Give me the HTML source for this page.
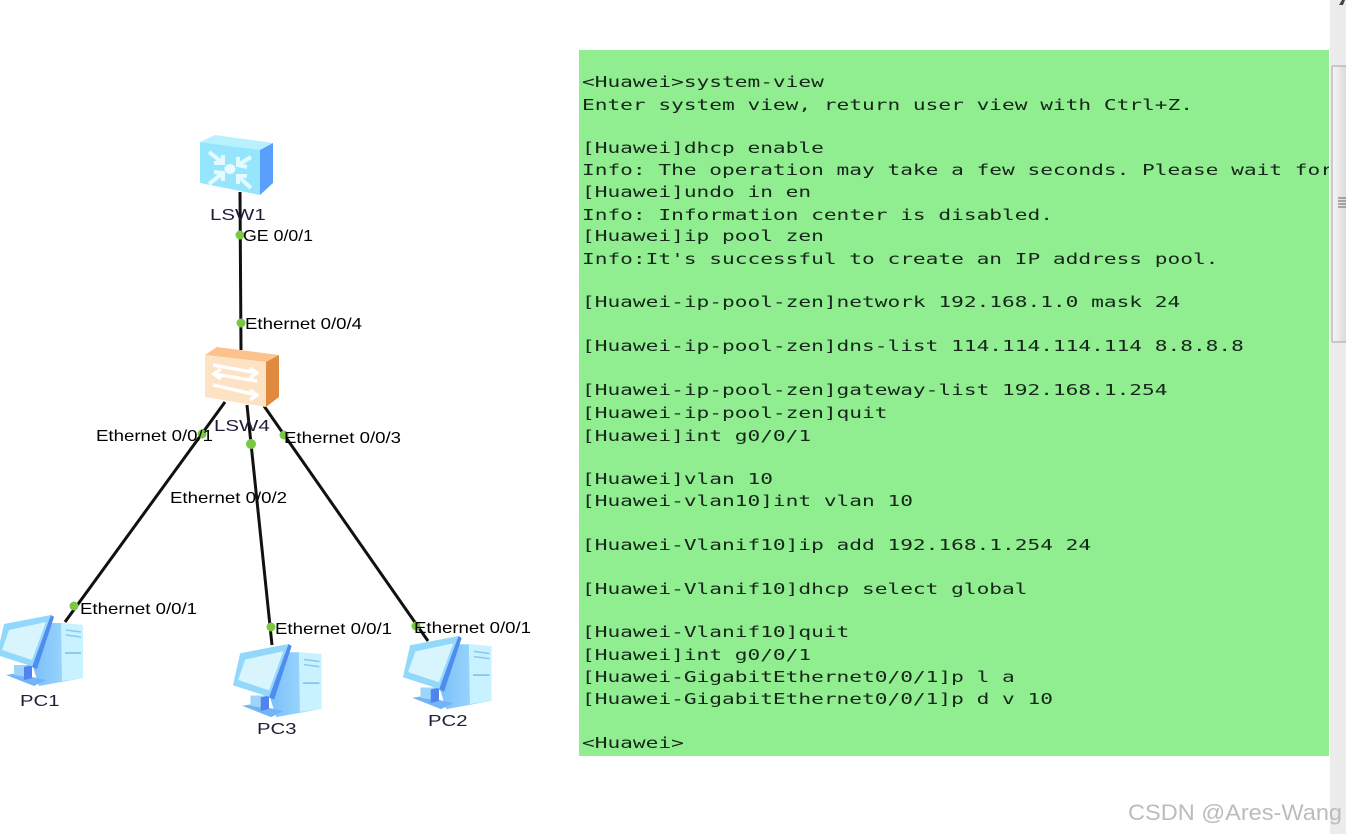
<!DOCTYPE html>
<html>
<head>
<meta charset="utf-8">
<style>
html,body{margin:0;padding:0;background:#fff;width:1346px;height:834px;overflow:hidden}
svg{display:block;filter:blur(0.35px)}
.l{font-family:"Liberation Sans",sans-serif;font-size:16px;fill:#000}
.n{font-family:"Liberation Sans",sans-serif;font-size:16px;fill:#1e1e38}
.t{font-family:"DejaVu Sans Mono",monospace;font-size:15.5px;fill:#16261a;white-space:pre}
</style>
</head>
<body>
<svg width="1346" height="834" viewBox="0 0 1346 834" xmlns="http://www.w3.org/2000/svg">
<defs>
<clipPath id="c"><rect x="579" y="50" width="750" height="706"/></clipPath>
<linearGradient id="thumb" x1="0" x2="1" y1="0" y2="0"><stop offset="0" stop-color="#f6f6f6"/><stop offset="1" stop-color="#dadada"/></linearGradient>
<linearGradient id="tw" x1="0" x2="1" y1="0" y2="0"><stop offset="0" stop-color="#7cc0fa"/><stop offset="1" stop-color="#a9e0fd"/></linearGradient>
<g id="pc">
  <path d="M50 8 L62 8 L84 10 L84 63 L62 67 L40 71 L34 52 Z" fill="url(#tw)"/>
  <path d="M62 8 L84 10 L84 63 L63 66 Z" fill="#c8f2ff"/>
  <path d="M67 15 L82 17" stroke="#8cc8ee" stroke-width="1.5"/>
  <path d="M67 20 L82 22" stroke="#8cc8ee" stroke-width="1.5"/>
  <path d="M66 38 L82 38" stroke="#7cbcec" stroke-width="1.5"/>
  <path d="M7 60 L35 71 L47 65 L33 62 L20 58 Z" fill="#74b4f6"/>
  <path d="M15 50 L33 50 L33 63 L15 60 Z" fill="#9cd4fa"/>
  <path d="M25 52 L33 50 L33 63 L25 65 Z" fill="#4f84ee"/>
  <path d="M5 9 L52 0 L35 52 L-2 40 Z" fill="#92d8fb"/>
  <path d="M10 15 L47 7 L33 45 L3 35 Z" fill="#d8f5fe"/>
  <path d="M52 0 L55 2 L38 54 L33 52 Z" fill="#4f8cf0"/>
</g>
</defs>
<rect width="1346" height="834" fill="#fff"/>

<!-- terminal panel -->
<rect x="579" y="50" width="750" height="706" fill="#90ee90"/>
<g clip-path="url(#c)">
<text class="t" transform="translate(582,87) scale(1.365,1)">&lt;Huawei&gt;system-view</text>
<text class="t" transform="translate(582,110) scale(1.365,1)">Enter system view, return user view with Ctrl+Z.</text>
<text class="t" transform="translate(582,153) scale(1.365,1)">[Huawei]dhcp enable</text>
<text class="t" transform="translate(582,175) scale(1.365,1)">Info: The operation may take a few seconds. Please wait for</text>
<text class="t" transform="translate(582,197) scale(1.365,1)">[Huawei]undo in en</text>
<text class="t" transform="translate(582,220) scale(1.365,1)">Info: Information center is disabled.</text>
<text class="t" transform="translate(582,241) scale(1.365,1)">[Huawei]ip pool zen</text>
<text class="t" transform="translate(582,264) scale(1.365,1)">Info:It's successful to create an IP address pool.</text>
<text class="t" transform="translate(582,307) scale(1.365,1)">[Huawei-ip-pool-zen]network 192.168.1.0 mask 24</text>
<text class="t" transform="translate(582,351) scale(1.365,1)">[Huawei-ip-pool-zen]dns-list 114.114.114.114 8.8.8.8</text>
<text class="t" transform="translate(582,395) scale(1.365,1)">[Huawei-ip-pool-zen]gateway-list 192.168.1.254</text>
<text class="t" transform="translate(582,418) scale(1.365,1)">[Huawei-ip-pool-zen]quit</text>
<text class="t" transform="translate(582,441) scale(1.365,1)">[Huawei]int g0/0/1</text>
<text class="t" transform="translate(582,484) scale(1.365,1)">[Huawei]vlan 10</text>
<text class="t" transform="translate(582,506) scale(1.365,1)">[Huawei-vlan10]int vlan 10</text>
<text class="t" transform="translate(582,550) scale(1.365,1)">[Huawei-Vlanif10]ip add 192.168.1.254 24</text>
<text class="t" transform="translate(582,594) scale(1.365,1)">[Huawei-Vlanif10]dhcp select global</text>
<text class="t" transform="translate(582,637) scale(1.365,1)">[Huawei-Vlanif10]quit</text>
<text class="t" transform="translate(582,660) scale(1.365,1)">[Huawei]int g0/0/1</text>
<text class="t" transform="translate(582,682) scale(1.365,1)">[Huawei-GigabitEthernet0/0/1]p l a</text>
<text class="t" transform="translate(582,704) scale(1.365,1)">[Huawei-GigabitEthernet0/0/1]p d v 10</text>
<text class="t" transform="translate(582,748) scale(1.365,1)">&lt;Huawei&gt;</text>
</g>

<!-- scrollbar -->
<rect x="1330" y="0" width="16" height="834" fill="#ececec"/>
<rect x="1332" y="66" width="15" height="276" rx="1" fill="url(#thumb)" stroke="#a4a4a4" stroke-width="1"/>
<path d="M1338 198h8M1338 201h8M1338 204h8M1338 207h8" stroke="#666" stroke-width="1"/>
<path d="M1339 5 L1342 0 L1345 0 L1343 5 Z" fill="#444"/>

<!-- links -->
<g stroke="#111" stroke-width="3" fill="none">
  <path d="M240 192 L241 350"/>
  <path d="M225 402 L65 622"/>
  <path d="M247 405 L272 645"/>
  <path d="M264 406 L428 641"/>
</g>

<!-- LSW1 -->
<path d="M200 142 L215 135 L273 143 L260 150 Z" fill="#b8f0fe"/>
<path d="M200 142 L260 150 L260 195 L200 183 Z" fill="#95e6fc"/>
<path d="M260 150 L273 143 L273 183 L260 195 Z" fill="#5aa0fb"/>
<g stroke="#e6f9ff" stroke-width="4" fill="none">
  <path d="M209 152 L223 163 M214 163 L223 163 L223 155"/>
  <path d="M251 157 L238 165 M238 157 L238 165 L247 167"/>
  <path d="M209 184 L223 173 M214 172 L223 173 L223 181"/>
  <path d="M251 188 L238 176 M238 184 L238 176 L247 176"/>
</g>
<ellipse cx="230" cy="169" rx="5.5" ry="5" fill="#eafaff"/>
<text class="n" transform="translate(210,220) scale(1.28,1)">LSW1</text>

<!-- LSW4 -->
<path d="M205 355 L217 347 L279 355 L266 362 Z" fill="#fbc28e"/>
<path d="M205 355 L266 362 L266 407 L205 397 Z" fill="#fde3c4"/>
<path d="M266 362 L279 355 L279 397 L266 407 Z" fill="#df8a3e"/>
<g stroke="#fff" stroke-width="3.4" fill="none">
  <path d="M213 365 L257 373 M250 368 L257 373 L250 378"/>
  <path d="M257 381 L214 374 M221 369 L214 374 L221 379"/>
  <path d="M213 385 L257 395 M250 390 L257 395 L250 400"/>
</g>
<text class="n" transform="translate(214,431) scale(1.28,1)">LSW4</text>

<!-- PCs -->
<use href="#pc" transform="translate(-1,615)"/>
<use href="#pc" transform="translate(235,644) scale(1.03)"/>
<use href="#pc" transform="translate(405,636) scale(1.03)"/>
<text class="n" transform="translate(20,706) scale(1.27,1)">PC1</text>
<text class="n" transform="translate(257,734) scale(1.27,1)">PC3</text>
<text class="n" transform="translate(428,726) scale(1.27,1)">PC2</text>

<!-- ports -->
<g fill="#7ac843">
  <circle cx="240" cy="235" r="4.5"/>
  <circle cx="241" cy="323" r="4.5"/>
  <circle cx="202" cy="434" r="4.5"/>
  <circle cx="251" cy="444" r="5"/>
  <circle cx="284" cy="435" r="4.5"/>
  <circle cx="74" cy="606" r="4.5"/>
  <circle cx="271" cy="627" r="4.5"/>
  <circle cx="416" cy="626" r="4.5"/>
</g>

<!-- labels -->
<text class="l" transform="translate(243,241) scale(1.11,1)">GE 0/0/1</text>
<text class="l" transform="translate(245,329) scale(1.165,1)">Ethernet 0/0/4</text>
<text class="l" transform="translate(96,441) scale(1.165,1)">Ethernet 0/0/1</text>
<text class="l" transform="translate(284,443) scale(1.165,1)">Ethernet 0/0/3</text>
<text class="l" transform="translate(170,503) scale(1.165,1)">Ethernet 0/0/2</text>
<text class="l" transform="translate(80,614) scale(1.165,1)">Ethernet 0/0/1</text>
<text class="l" transform="translate(275,634) scale(1.165,1)">Ethernet 0/0/1</text>
<text class="l" transform="translate(414,633) scale(1.165,1)">Ethernet 0/0/1</text>

<!-- watermark -->
<text x="1128" y="820" font-family="'Liberation Sans',sans-serif" font-size="22" fill="#bcbcbc" textLength="214" lengthAdjust="spacingAndGlyphs">CSDN @Ares-Wang</text>
</svg>
</body>
</html>
